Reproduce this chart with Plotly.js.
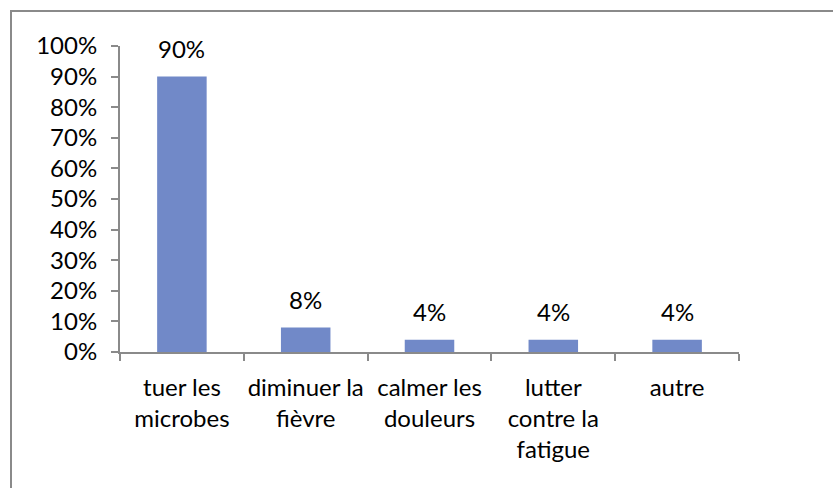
<!DOCTYPE html>
<html>
<head>
<meta charset="utf-8">
<script src="https://cdn.plot.ly/plotly-3.0.1.min.js"></script>
<style>
html,body{margin:0;padding:0;background:#fff;overflow:hidden;}
#wrap{position:relative;width:833px;height:488px;}
#chart{width:833px;height:488px;}
#frame{position:absolute;left:10px;top:10px;width:900px;height:600px;border:2px solid #8a8a8a;pointer-events:none;}
</style>
</head>
<body>
<div id="wrap"><div id="chart"></div><div id="frame"></div></div>
<script>
const categories = ["tuer les<br>microbes", "diminuer la<br>fièvre", "calmer les<br>douleurs", "lutter<br>contre la<br>fatigue", "autre"];
const values = [0.90, 0.08, 0.04, 0.04, 0.04];
const labels = ["90%", "8%", "4%", "4%", "4%"];

const font = {family: "Lato, 'Open Sans', sans-serif", size: 24, color: "#000"};

const trace = {
  type: "bar",
  x: categories,
  y: values,
  marker: {color: "#7189C8"},
  hoverinfo: "skip"
};

const annotations = categories.map((c, i) => ({
  x: c, y: values[i], xref: "x", yref: "y",
  text: labels[i], showarrow: false,
  yanchor: "bottom", yshift: 12,
  font: font
}));

const layout = {
  width: 833, height: 488,
  margin: {l: 120, r: 94, t: 46, b: 136},
  paper_bgcolor: "#fff", plot_bgcolor: "#fff",
  font: font,
  showlegend: false,
  bargap: 0.6,
  xaxis: {
    type: "category",
    showline: true, linecolor: "#8a8a8a", linewidth: 2,
    ticks: "outside", ticklen: 7, tickwidth: 2, tickcolor: "#8a8a8a",
    tickson: "boundaries",
    tickangle: 0,
    showgrid: false, zeroline: false,
    tickfont: font,
    ticklabelstandoff: 13
  },
  yaxis: {
    range: [0, 1],
    dtick: 0.1,
    tickformat: ".0%",
    showline: true, linecolor: "#8a8a8a", linewidth: 2,
    ticks: "outside", ticklen: 7, tickwidth: 2, tickcolor: "#8a8a8a",
    showgrid: false, zeroline: false,
    tickfont: font,
    ticklabelstandoff: 9
  },
  annotations: annotations
};

Plotly.newPlot("chart", [trace], layout, {staticPlot: true, displayModeBar: false});
</script>
</body>
</html>
